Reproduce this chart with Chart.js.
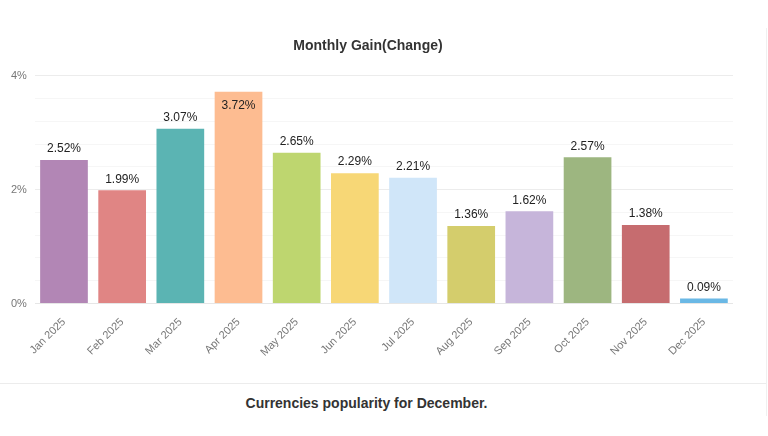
<!DOCTYPE html>
<html>
<head>
<meta charset="utf-8">
<script src="https://cdn.jsdelivr.net/npm/chart.js@4.4.1/dist/chart.umd.min.js"></script>
<style>
  html, body { margin: 0; padding: 0; background: #fff; width: 768px; height: 436px; overflow: hidden; font-family: Arial, "Liberation Sans", sans-serif; }
  #wrap { position: absolute; left: 0; top: 0; width: 733px; height: 383px; }
  #hline { position: absolute; left: 0; top: 383px; width: 766px; height: 1px; background: #ececec; }
  #vline { position: absolute; left: 766px; top: 28px; width: 1px; height: 388px; background: #f0f0f0; }
  #footer { position: absolute; left: 0; top: 395px; width: 733px; text-align: center; font: bold 14px Arial, "Liberation Sans", sans-serif; color: #333; }
</style>
</head>
<body>
<div id="wrap"><canvas id="c"></canvas></div>
<div id="hline"></div>
<div id="vline"></div>
<div id="footer">Currencies popularity for December.</div>
<script>
const categories = ["Jan 2025","Feb 2025","Mar 2025","Apr 2025","May 2025","Jun 2025","Jul 2025","Aug 2025","Sep 2025","Oct 2025","Nov 2025","Dec 2025"];
const gainValues = [2.52, 1.99, 3.07, 3.72, 2.65, 2.29, 2.21, 1.36, 1.62, 2.57, 1.38, 0.09];
const barColors = ["#b286b5","#e08584","#5bb4b3","#fdbc91","#bed66f","#f7d776","#d0e6f9","#d4cd6c","#c6b5da","#9db680","#c66c6f","#6ab8e5"];
const yTickLabels = { 0: "0%", 2: "2%", 4: "4%" };

const valueLabels = {
  id: 'valueLabels',
  afterDatasetsDraw(chart) {
    const ctx = chart.ctx;
    const meta = chart.getDatasetMeta(0);
    ctx.save();
    ctx.font = '12px Arial, "Liberation Sans", sans-serif';
    ctx.fillStyle = '#222';
    ctx.textAlign = 'center';
    ctx.textBaseline = 'middle';
    meta.data.forEach((bar, i) => {
      const txt = gainValues[i].toFixed(2) + '%';
      let y = bar.y - 11;
      if (y - 7 < chart.chartArea.top) y = bar.y + 14;
      ctx.fillText(txt, bar.x, y);
    });
    ctx.restore();
  }
};

new Chart(document.getElementById('c'), {
  type: 'bar',
  data: {
    labels: categories,
    datasets: [{
      data: gainValues,
      backgroundColor: barColors,
      borderWidth: 0,
      categoryPercentage: 0.82,
      barPercentage: 1.0
    }]
  },
  options: {
    responsive: true,
    maintainAspectRatio: false,
    animation: false,
    devicePixelRatio: 1,
    layout: { padding: { top: 0, bottom: 20, left: 3, right: 0 } },
    plugins: {
      legend: { display: false },
      tooltip: { enabled: false },
      title: {
        display: true,
        text: 'Monthly Gain(Change)',
        color: '#333',
        font: { size: 14, weight: 'bold', family: 'Arial, "Liberation Sans", sans-serif' },
        padding: { top: 38, bottom: 21 }
      }
    },
    scales: {
      x: {
        grid: { display: false },
        border: { display: false },
        ticks: {
          color: '#777',
          font: { size: 11, family: 'Arial, "Liberation Sans", sans-serif' },
          maxRotation: 45, minRotation: 45,
          autoSkip: false,
          padding: 4
        }
      },
      y: {
        min: 0, max: 4,
        border: { display: false },
        grid: {
          drawTicks: false,
          color: (c) => {
            const v = c.tick ? c.tick.value : 0;
            if (Math.abs(v) < 1e-6) return '#e6e6e6';
            if (Math.abs(v - 2) < 1e-6 || Math.abs(v - 4) < 1e-6) return '#ececec';
            return '#f6f6f6';
          }
        },
        ticks: {
          stepSize: 0.4,
          autoSkip: false,
          color: '#777',
          padding: 8,
          font: { size: 11, family: 'Arial, "Liberation Sans", sans-serif' },
          callback: (v) => {
            const r = Math.round(v * 10) / 10;
            return yTickLabels[r] !== undefined && Math.abs(v - r) < 1e-6 ? yTickLabels[r] : '';
          }
        }
      }
    }
  },
  plugins: [valueLabels]
});
</script>
</body>
</html>
